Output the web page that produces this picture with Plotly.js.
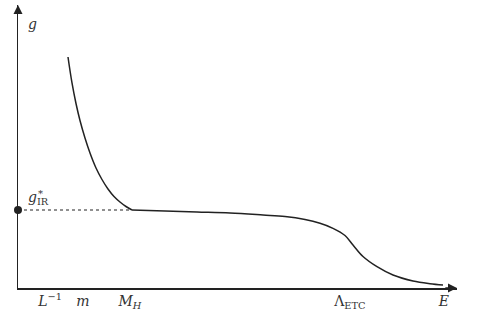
<!DOCTYPE html>
<html><head><meta charset="utf-8">
<script src="https://cdn.plot.ly/plotly-3.0.1.min.js"></script>
<style>html,body{margin:0;padding:0;background:#fff;}#chart{width:485px;height:329px;}</style>
</head><body><div id="chart"></div>
<script>
// Steep branch (below M_H)
const E_steep = [11.39, 12.30, 13.21, 14.12, 15.26, 16.40, 17.77, 19.13, 20.50, 21.87, 23.23, 24.60, 25.97];
const g_steep = [81.63, 72.44, 65.19, 59.19, 53.00, 47.70, 42.40, 38.34, 34.98, 32.33, 30.39, 28.80, 27.56];
// Plateau and drop near Lambda_ETC
const E_flat = [25.97, 33.49, 40.77, 48.29, 55.81, 60.82, 65.38, 68.79, 71.75, 74.49, 76.31, 78.59, 81.78, 85.42, 89.98, 93.85, 96.81];
const g_flat = [27.56, 27.21, 26.86, 26.50, 25.80, 25.27, 24.20, 22.86, 21.09, 18.55, 15.19, 11.13, 7.53, 4.59, 2.47, 1.52, 1.06];
// Fixed point
const gIR = 27.56;
const E_MH = 25.97;
// Tick labels
const tickPos = [7.3, 14.8, 25.5, 75.6, 97.0];
const tickText = ['<i>L</i><sup>−1</sup>', '<i>m</i>', '<i>M</i><sub><i>H</i></sub>', 'Λ<sub>ETC</sub>', '<i>E</i>'];

const lineCol = '#222';
const fam = 'DejaVu Serif';
const font = {family: fam, size: 14, color: '#333'};

const traces = [
  {x: E_steep, y: g_steep, mode: 'lines', line: {color: lineCol, width: 1.5, shape: 'spline', smoothing: 1}, cliponaxis: false},
  {x: E_flat, y: g_flat, mode: 'lines', line: {color: lineCol, width: 1.5, shape: 'spline', smoothing: 1}, cliponaxis: false},
  {x: [0, E_MH], y: [gIR, gIR], mode: 'lines', line: {color: lineCol, width: 1.2, dash: 'dot'}, cliponaxis: false},
  {x: [0], y: [gIR], mode: 'markers', marker: {color: lineCol, size: 8}, cliponaxis: false}
];

const layout = {
  width: 485, height: 329,
  margin: {l: 18, r: 28, t: 5, b: 41},
  paper_bgcolor: '#fff', plot_bgcolor: '#fff',
  showlegend: false,
  font: font,
  xaxis: {range: [0, 100], showgrid: false, zeroline: false, showline: true, linecolor: lineCol, linewidth: 1.5,
          tickmode: 'array', tickvals: tickPos, ticktext: tickText, ticks: '', tickfont: font, fixedrange: true},
  yaxis: {range: [0, 100], showgrid: false, zeroline: false, showline: true, linecolor: lineCol, linewidth: 1.5,
          showticklabels: false, ticks: '', fixedrange: true},
  annotations: [
    {x: 100, y: 0, ax: 97, ay: 0, xref: 'x', yref: 'y', axref: 'x', ayref: 'y', text: '', showarrow: true, arrowhead: 2, arrowsize: 1.2, arrowwidth: 1.5, arrowcolor: lineCol},
    {x: 0, y: 100, ax: 0, ay: 97, xref: 'x', yref: 'y', axref: 'x', ayref: 'y', text: '', showarrow: true, arrowhead: 2, arrowsize: 1.2, arrowwidth: 1.5, arrowcolor: lineCol},
    {x: 1.8, y: 93.3, xref: 'x', yref: 'y', text: '<i>g</i>', showarrow: false, xanchor: 'left', font: font},
    {x: 1.8, y: gIR + 0.4, xref: 'x', yref: 'y', text: '<i>g</i><sub>IR</sub>', showarrow: false, xanchor: 'left', yanchor: 'bottom', font: font},
    {x: 4.2, y: gIR + 5.7, xref: 'x', yref: 'y', text: '*', showarrow: false, xanchor: 'left', yanchor: 'middle', font: {family: fam, size: 10, color: '#333'}}
  ]
};

Plotly.newPlot('chart', traces, layout, {staticPlot: true, displayModeBar: false});
</script>
</body></html>
